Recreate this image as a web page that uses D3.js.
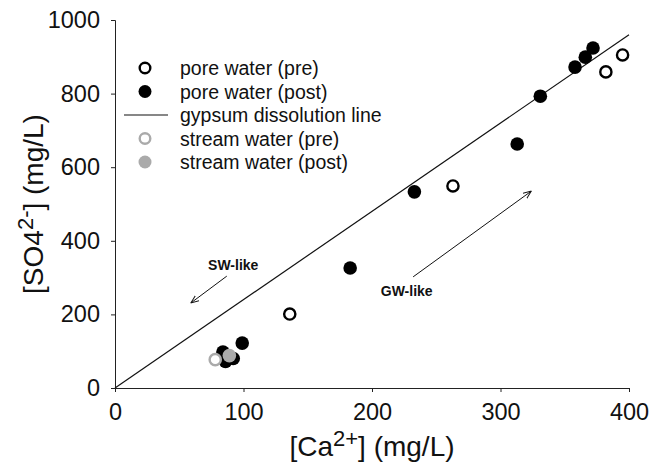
<!DOCTYPE html>
<html>
<head>
<meta charset="utf-8">
<script src="https://cdn.jsdelivr.net/npm/d3@7"></script>
<style>
  body { margin: 0; background: #fff; }
  svg { font-family: "Liberation Sans", Arial, sans-serif; }
</style>
</head>
<body>
<div id="chart"></div>
<script>
// data: Ca2+ (x) vs SO4 2- (y), mg/L
const porePreCa = [136, 263, 382, 395];
const porePreSO4 = [201, 549, 859, 905];
const porePostCa = [84, 86, 92, 99, 183, 233, 313, 331, 358, 366, 372];
const porePostSO4 = [98, 72, 80, 122, 326, 533, 663, 793, 872, 899, 924];
const streamPreCa = [78];
const streamPreSO4 = [77];
const streamPostCa = [89];
const streamPostSO4 = [88];
const gypsumCa = [0, 400];
const gypsumSO4 = [0, 960];
const xTicks = [0, 100, 200, 300, 400];
const yTicks = [0, 200, 400, 600, 800, 1000];
const legendLabels = ["pore water (pre)", "pore water (post)", "gypsum dissolution line",
                      "stream water (pre)", "stream water (post)"];

let margin = {top: 20, right: 21, bottom: 76, left: 115},
    width = 650 - margin.left - margin.right,
    height = 464 - margin.top - margin.bottom;

let svg = d3.select("#chart").append("svg")
    .attr("width", 650)
    .attr("height", 464);

let g = svg.append("g")
    .attr("transform", "translate(" + margin.left + "," + margin.top + ")");

let x = d3.scaleLinear().domain([0, 400]).range([0, width]);
let y = d3.scaleLinear().domain([0, 1000]).range([height, 0]);

// axes
let xAxis = g.append("g")
    .attr("transform", "translate(0," + height + ")")
    .call(d3.axisBottom(x).tickValues(xTicks).tickFormat(d3.format("d"))
        .tickSizeOuter(0).tickSize(4).tickPadding(11));
let yAxis = g.append("g")
    .call(d3.axisLeft(y).tickValues(yTicks).tickFormat(d3.format("d"))
        .tickSizeOuter(0).tickSize(4).tickPadding(11));

[xAxis, yAxis].forEach(a => {
    a.selectAll("text").attr("font-size", 23.5).attr("fill", "#111")
        .attr("font-family", "'Liberation Sans', Arial, sans-serif");
    a.selectAll("line, path").attr("stroke", "#222");
});

// gypsum dissolution line
let zip = (a, b) => a.map((v, i) => [v, b[i]]);
g.append("path")
    .datum(zip(gypsumCa, gypsumSO4))
    .attr("fill", "none")
    .attr("stroke", "#111")
    .attr("stroke-width", 1.2)
    .attr("d", d3.line().x(d => x(d[0])).y(d => y(d[1])));

// points
let r = 6.8;
function drawPoints(xs, ys, fill, stroke) {
    g.append("g").selectAll("circle")
        .data(zip(xs, ys))
        .enter().append("circle")
        .attr("cx", d => x(d[0]))
        .attr("cy", d => y(d[1]))
        .attr("r", fill === "#fff" ? r - 1.2 : r)
        .attr("fill", fill)
        .attr("stroke", stroke)
        .attr("stroke-width", fill === "#fff" ? 2.4 : 0);
}
drawPoints(porePreCa, porePreSO4, "#fff", "#000");
drawPoints(porePostCa, porePostSO4, "#000", "#000");
drawPoints(streamPreCa, streamPreSO4, "#fff", "#aaa");
drawPoints(streamPostCa, streamPostSO4, "#aaa", "#aaa");

// arrows
svg.append("defs").append("marker")
    .attr("id", "arrow")
    .attr("viewBox", "0 0 10 10")
    .attr("refX", 10).attr("refY", 5)
    .attr("markerWidth", 8).attr("markerHeight", 8)
    .attr("orient", "auto")
    .append("path")
    .attr("d", "M0,1 L10,5 L0,9")
    .attr("fill", "none")
    .attr("stroke", "#111")
    .attr("stroke-width", 1.2);

const arrows = [
    {from: [87, 304], to: [59, 231]},
    {from: [232, 302], to: [324, 535]}
];
g.selectAll(".arrow")
    .data(arrows)
    .enter().append("line")
    .attr("x1", d => x(d.from[0])).attr("y1", d => y(d.from[1]))
    .attr("x2", d => x(d.to[0])).attr("y2", d => y(d.to[1]))
    .attr("stroke", "#111")
    .attr("stroke-width", 1)
    .attr("marker-end", "url(#arrow)");

const notes = [
    {text: "SW-like", at: [92, 320]},
    {text: "GW-like", at: [227, 250]}
];
g.selectAll(".note")
    .data(notes)
    .enter().append("text")
    .attr("x", d => x(d.at[0]))
    .attr("y", d => y(d.at[1]))
    .attr("text-anchor", "middle")
    .attr("font-size", 14)
    .attr("font-weight", "bold")
    .attr("fill", "#111")
    .text(d => d.text);

// legend
let legend = svg.append("g").attr("transform", "translate(145,68)");
legendLabels.forEach((lab, i) => {
    let row = legend.append("g").attr("transform", "translate(0," + (i * 23.5) + ")");
    if (i === 2) {
        row.append("line").attr("x1", -21).attr("x2", 23).attr("y1", 0).attr("y2", 0)
            .attr("stroke", "#111").attr("stroke-width", 1.2);
    } else {
        let open = i === 0 || i === 3;
        let col = i < 2 ? "#000" : "#aaa";
        row.append("circle")
            .attr("r", open ? 5.3 : 6.5)
            .attr("fill", open ? "#fff" : col)
            .attr("stroke", col)
            .attr("stroke-width", open ? 2.4 : 0);
    }
    row.append("text")
        .attr("x", 35)
        .attr("y", 7)
        .attr("font-size", 19.5)
        .attr("fill", "#111")
        .text(lab);
});

// axis titles
let xt = svg.append("text")
    .attr("x", margin.left + width / 2)
    .attr("y", 456)
    .attr("text-anchor", "middle")
    .attr("font-size", 28)
    .attr("fill", "#111");
xt.append("tspan").text("[Ca");
xt.append("tspan").attr("dy", -10).attr("font-size", 22).text("2+");
xt.append("tspan").attr("dy", 10).text("] (mg/L)");

let yt = svg.append("text")
    .attr("transform", "translate(43," + (margin.top + height / 2) + ") rotate(-90)")
    .attr("text-anchor", "middle")
    .attr("font-size", 28)
    .attr("fill", "#111");
yt.append("tspan").text("[SO4");
yt.append("tspan").attr("dy", -10).attr("font-size", 22).text("2-");
yt.append("tspan").attr("dy", 10).text("] (mg/L)");
</script>
</body>
</html>
